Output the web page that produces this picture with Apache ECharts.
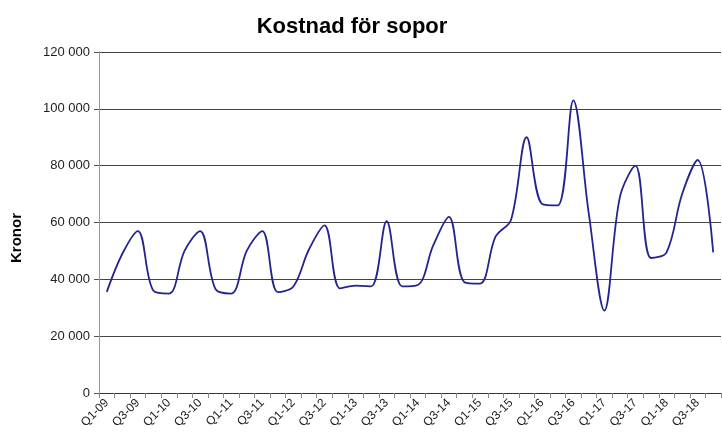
<!DOCTYPE html>
<html>
<head>
<meta charset="utf-8">
<script src="https://cdn.jsdelivr.net/npm/echarts@6/dist/echarts.min.js"></script>
<style>html,body{margin:0;padding:0;background:#fff}#c{width:722px;height:439px}</style>
</head>
<body>
<div id="c"></div>
<script>
var categories = [];
var years = ['09','10','11','12','13','14','15','16','17','18'];
years.forEach(function (y) { for (var q = 1; q <= 4; q++) categories.push('Q' + q + '-' + y); });

var kostnad = [
  35600, 49000, 57000, 36000, 35000, 50000, 57000, 36500, 35000, 50000,
  57000, 35500, 37500, 50500, 59000, 36800, 37800, 37500, 60500, 37500,
  38000, 52000, 62000, 39000, 38500, 55000, 61000, 90000, 66500, 66000,
  103000, 63000, 29000, 69000, 80000, 47500, 49500, 70000, 82000, 49500
];

var yTicks = { min: 0, max: 120000, interval: 20000 };
var yName = 'Kronor';

function fmt(v) { return String(v).replace(/\B(?=(\d{3})+(?!\d))/g, ' '); }

var chart = echarts.init(document.getElementById('c'), null, { renderer: 'canvas' });
chart.setOption({
  animation: false,
  backgroundColor: '#fff',
  title: {
    text: 'Kostnad för sopor',
    left: 347, top: 11, textAlign: 'center',
    textStyle: { fontFamily: 'Liberation Sans', fontWeight: 'bold', fontSize: 22, color: '#000' }
  },
  graphic: [{
    type: 'text',
    x: 17, y: 238,
    rotation: Math.PI / 2,
    style: {
      text: yName, textAlign: 'center', textVerticalAlign: 'middle',
      font: 'bold 15px "Liberation Sans"', fill: '#000'
    }
  }],
  grid: { left: 99, right: 1, top: 52, bottom: 46, containLabel: false },
  xAxis: {
    type: 'category',
    data: categories,
    boundaryGap: true,
    axisLine: { show: true, lineStyle: { color: '#333', width: 1 } },
    axisTick: { show: true, interval: 0, length: 5, lineStyle: { color: '#888' } },
    axisLabel: { interval: 1, rotate: 45, fontFamily: 'Liberation Sans', fontSize: 12, color: '#222', margin: 8 },
    splitLine: { show: false }
  },
  yAxis: {
    type: 'value',
    min: yTicks.min, max: yTicks.max, interval: yTicks.interval,
    axisLine: { show: true, lineStyle: { color: '#999', width: 1 } },
    axisTick: { show: true, length: 5, lineStyle: { color: '#555' } },
    axisLabel: { formatter: fmt, fontFamily: 'Liberation Sans', fontSize: 13, color: '#222', margin: 9 },
    splitLine: { show: true, lineStyle: { color: '#444', width: 1 } }
  },
  series: [{
    type: 'line',
    data: kostnad,
    smooth: 0.35,
    symbol: 'none',
    lineStyle: { color: '#24248f', width: 1.8 }
  }]
});
</script>
</body>
</html>
